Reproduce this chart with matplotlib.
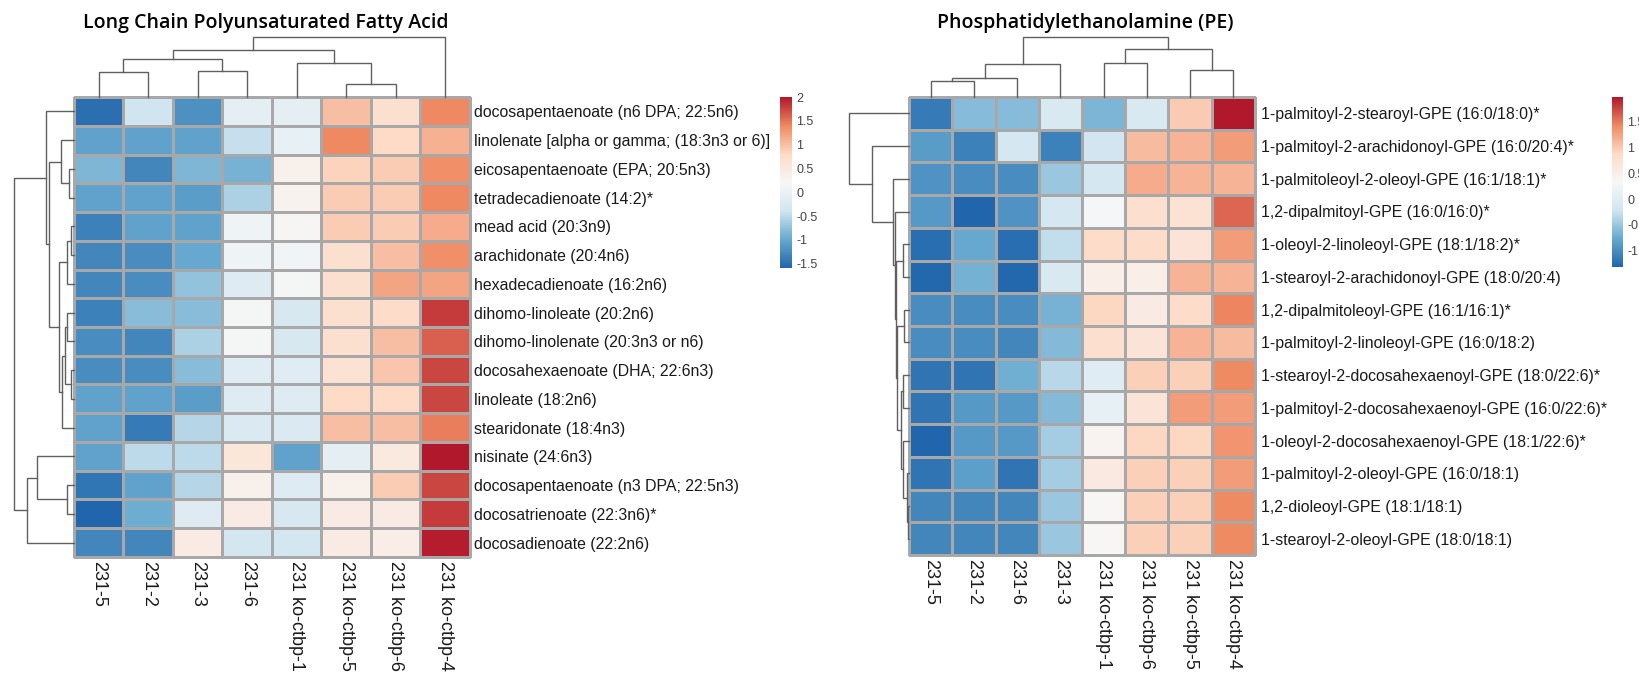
import numpy as np
import matplotlib
matplotlib.use("Agg")
import matplotlib.pyplot as plt
from matplotlib.colors import LinearSegmentedColormap, Normalize
from matplotlib.cm import ScalarMappable

# ---------------- data ----------------
lcpufa_cols = ["231-5", "231-2", "231-3", "231-6", "231 ko-ctbp-1",
               "231 ko-ctbp-5", "231 ko-ctbp-6", "231 ko-ctbp-4"]
lcpufa_rows = [
    "docosapentaenoate (n6 DPA; 22:5n6)",
    "linolenate [alpha or gamma; (18:3n3 or 6)]",
    "eicosapentaenoate (EPA; 20:5n3)",
    "tetradecadienoate (14:2)*",
    "mead acid (20:3n9)",
    "arachidonate (20:4n6)",
    "hexadecadienoate (16:2n6)",
    "dihomo-linoleate (20:2n6)",
    "dihomo-linolenate (20:3n3 or n6)",
    "docosahexaenoate (DHA; 22:6n3)",
    "linoleate (18:2n6)",
    "stearidonate (18:4n3)",
    "nisinate (24:6n3)",
    "docosapentaenoate (n3 DPA; 22:5n3)",
    "docosatrienoate (22:3n6)*",
    "docosadienoate (22:2n6)",
]
lcpufa_values = [
    [-1.50, -0.40, -1.20, -0.10, -0.10, 1.00, 0.70, 1.40],
    [-1.05, -1.05, -1.05, -0.45, -0.05, 1.40, 0.80, 1.10],
    [-0.85, -1.30, -0.85, -0.90, 0.35, 0.85, 0.90, 1.35],
    [-1.05, -1.05, -1.10, -0.60, 0.30, 0.90, 0.90, 1.40],
    [-1.35, -1.05, -1.05, 0.05, 0.25, 0.90, 0.90, 1.15],
    [-1.30, -1.25, -1.00, 0.05, 0.10, 0.70, 1.00, 1.35],
    [-1.30, -1.25, -0.75, -0.20, 0.15, 0.70, 1.20, 1.20],
    [-1.35, -0.80, -0.80, 0.15, -0.30, 0.70, 0.75, 1.80],
    [-1.25, -1.30, -0.60, 0.15, -0.30, 0.70, 1.00, 1.60],
    [-1.25, -1.25, -0.80, -0.15, -0.15, 0.65, 0.95, 1.75],
    [-1.05, -1.05, -1.10, -0.20, -0.20, 0.80, 0.80, 1.75],
    [-1.05, -1.40, -0.55, -0.25, -0.25, 1.00, 1.00, 1.45],
    [-1.05, -0.50, -0.50, 0.55, -1.05, -0.10, 0.50, 2.00],
    [-1.45, -1.05, -0.55, 0.35, -0.20, 0.35, 0.90, 1.75],
    [-1.60, -0.95, -0.20, 0.45, -0.30, 0.45, 0.45, 1.80],
    [-1.30, -1.30, 0.45, -0.35, -0.35, 0.45, 0.40, 1.95],
]
lcpufa_range = (-1.59, 1.99)
lcpufa_ticks = [-1.5, -1, -0.5, 0, 0.5, 1, 1.5, 2]
# dendrograms: (child_a, child_b, height) ; leaves in display order
lcpufa_col_tree = [(0, 1, 25.3), (2, 3, 26.3), (8, 9, 37.7), (5, 6, 12.7),
                   (4, 11, 33.7), (10, 12, 47.0), (13, 7, 60.3)]
lcpufa_row_tree = [(2, 3, 4.7), (1, 16, 13.3), (4, 5, 3.3), (18, 6, 7.3),
                   (7, 8, 6.7), (9, 10, 3.3), (20, 21, 8.5), (22, 11, 12.3),
                   (19, 23, 14.7), (17, 24, 25.0), (0, 25, 28.3), (13, 14, 6.7),
                   (12, 27, 36.7), (28, 15, 47.3), (26, 29, 60.0)]

pe_cols = ["231-5", "231-2", "231-6", "231-3", "231 ko-ctbp-1",
           "231 ko-ctbp-6", "231 ko-ctbp-5", "231 ko-ctbp-4"]
pe_rows = [
    "1-palmitoyl-2-stearoyl-GPE (16:0/18:0)*",
    "1-palmitoyl-2-arachidonoyl-GPE (16:0/20:4)*",
    "1-palmitoleoyl-2-oleoyl-GPE (16:1/18:1)*",
    "1,2-dipalmitoyl-GPE (16:0/16:0)*",
    "1-oleoyl-2-linoleoyl-GPE (18:1/18:2)*",
    "1-stearoyl-2-arachidonoyl-GPE (18:0/20:4)",
    "1,2-dipalmitoleoyl-GPE (16:1/16:1)*",
    "1-palmitoyl-2-linoleoyl-GPE (16:0/18:2)",
    "1-stearoyl-2-docosahexaenoyl-GPE (18:0/22:6)*",
    "1-palmitoyl-2-docosahexaenoyl-GPE (16:0/22:6)*",
    "1-oleoyl-2-docosahexaenoyl-GPE (18:1/22:6)*",
    "1-palmitoyl-2-oleoyl-GPE (16:0/18:1)",
    "1,2-dioleoyl-GPE (18:1/18:1)",
    "1-stearoyl-2-oleoyl-GPE (18:0/18:1)",
]
pe_values = [
    [-1.15, -0.60, -0.60, -0.10, -0.65, -0.10, 1.00, 1.98],
    [-0.87, -1.10, -0.15, -1.10, -0.20, 1.10, 1.15, 1.30],
    [-0.95, -1.00, -1.00, -0.50, -0.15, 1.20, 1.15, 1.15],
    [-0.90, -1.32, -0.95, -0.15, 0.30, 0.80, 0.75, 1.60],
    [-1.25, -0.77, -1.25, -0.30, 0.85, 0.85, 0.70, 1.30],
    [-1.30, -0.70, -1.30, -0.10, 0.50, 0.50, 1.15, 1.15],
    [-1.00, -1.00, -1.00, -0.68, 0.90, 0.55, 0.85, 1.45],
    [-1.00, -1.00, -1.05, -0.62, 0.80, 0.70, 1.15, 1.10],
    [-1.20, -1.20, -0.72, -0.35, 0.00, 0.95, 0.95, 1.42],
    [-1.20, -0.90, -0.90, -0.62, 0.10, 0.70, 1.30, 1.30],
    [-1.32, -0.90, -0.90, -0.45, 0.40, 0.90, 0.90, 1.35],
    [-1.20, -0.85, -1.20, -0.45, 0.60, 0.95, 0.95, 1.30],
    [-1.05, -1.05, -1.05, -0.50, 0.35, 0.95, 0.95, 1.42],
    [-1.05, -1.05, -1.05, -0.50, 0.35, 0.95, 0.95, 1.42],
]
pe_range = (-1.32, 1.98)
pe_ticks = [-1, -0.5, 0, 0.5, 1, 1.5]
pe_col_tree = [(0, 1, 16.0), (8, 2, 19.3), (9, 3, 32.7), (4, 5, 34.3),
               (6, 7, 27.0), (11, 12, 47.3), (10, 13, 59.7)]
pe_row_tree = [(4, 5, 5.7), (6, 7, 4.7), (8, 9, 6.3), (12, 13, 1.5),
               (11, 17, 2.5), (10, 18, 6.0), (16, 19, 8.0), (15, 20, 12.0),
               (14, 21, 13.0), (3, 22, 14.0), (2, 23, 15.7), (1, 24, 36.7),
               (0, 25, 60.0)]

palette = ["#2166AC", "#67A9CF", "#D1E5F0", "#F7F7F7", "#FDDBC7", "#EF8A62", "#B2182B"]
cmap = LinearSegmentedColormap.from_list("rdbu7", palette, N=256)

# ---------------- layout helpers ----------------
W, H = 1640, 674
fig = plt.figure(figsize=(W / 100, H / 100), dpi=100)
plt.rcParams['font.family'] = ['Liberation Sans', 'DejaVu Sans']


def px_axes(x0, y0, x1, y1):
    return fig.add_axes([x0 / W, 1 - y1 / H, (x1 - x0) / W, (y1 - y0) / H])


def tree_segments(tree, n):
    pos = {i: i + 0.5 for i in range(n)}
    hgt = {i: 0.0 for i in range(n)}
    segs = []
    for k, (a, b, h) in enumerate(tree):
        segs.append([(pos[a], hgt[a]), (pos[a], h), (pos[b], h), (pos[b], hgt[b])])
        pos[n + k] = (pos[a] + pos[b]) / 2
        hgt[n + k] = h
    return segs


DCOL = "#606060"
DLW = 1.0


def draw_col_dendro(ax, tree, n):
    for s in tree_segments(tree, n):
        xs, ys = zip(*s)
        ax.plot(xs, ys, color=DCOL, lw=DLW, solid_joinstyle="miter", clip_on=False)
    ax.set_xlim(0, n)
    ax.set_ylim(0, max(t[2] for t in tree))
    ax.axis("off")


def draw_row_dendro(ax, tree, n):
    for s in tree_segments(tree, n):
        ys, xs = zip(*s)
        ax.plot(xs, ys, color=DCOL, lw=DLW, solid_joinstyle="miter", clip_on=False)
    ax.set_ylim(n, 0)
    ax.set_xlim(max(t[2] for t in tree), 0)
    ax.axis("off")


def draw_heat(ax, vals, rows, cols, vrange, row_pad):
    data = np.array(vals)
    norm = Normalize(*vrange)
    m = ax.pcolormesh(np.arange(len(cols) + 1), np.arange(len(rows) + 1), data,
                      cmap=cmap, norm=norm, edgecolors="#a8a8a8", linewidth=0.75)
    m.set_clip_on(False)
    ax.set_xlim(0, len(cols))
    ax.set_ylim(len(rows), 0)
    for sp in ax.spines.values():
        sp.set_visible(False)
    ax.yaxis.tick_right()
    ax.set_yticks(np.arange(len(rows)) + 0.5)
    ax.set_yticklabels(rows, fontsize=11.4, color="#1a1a1a")
    ax.set_xticks(np.arange(len(cols)) + 0.5)
    ax.set_xticklabels(cols, rotation=-90, fontsize=13, color="#1a1a1a", va="top", ha="center")
    ax.tick_params(axis="y", length=0, pad=row_pad)
    ax.tick_params(axis="x", length=0, pad=3)
    return norm


def draw_cbar(cax, norm, ticks):
    sm = ScalarMappable(norm=norm, cmap=cmap)
    cb = fig.colorbar(sm, cax=cax)
    cb.outline.set_visible(False)
    cb.set_ticks(ticks)
    cb.set_ticklabels([("%g" % t) for t in ticks])
    cax.tick_params(length=0, labelsize=9, pad=3, colors="#444444")


title_font = dict(family=["Open Sans", "DejaVu Sans"], fontsize=14, fontweight="semibold")

# ---------------- left panel ----------------
ax1 = px_axes(74, 97, 470, 557)
n1 = draw_heat(ax1, lcpufa_values, lcpufa_rows, lcpufa_cols, lcpufa_range, 3)
draw_col_dendro(px_axes(74, 37, 470, 97), lcpufa_col_tree, len(lcpufa_cols))
draw_row_dendro(px_axes(14, 97, 74, 557), lcpufa_row_tree, len(lcpufa_rows))
draw_cbar(px_axes(780, 97, 792, 268), n1, lcpufa_ticks)
fig.text(266 / W, 1 - 23 / H, "Long Chain Polyunsaturated Fatty Acid", ha="center", va="center", **title_font)

# ---------------- right panel ----------------
ax2 = px_axes(909, 97, 1255, 555)
n2 = draw_heat(ax2, pe_values, pe_rows, pe_cols, pe_range, 4)
draw_col_dendro(px_axes(909, 37, 1255, 97), pe_col_tree, len(pe_cols))
draw_row_dendro(px_axes(849, 97, 909, 555), pe_row_tree, len(pe_rows))
draw_cbar(px_axes(1612, 97, 1623, 267), n2, pe_ticks)
fig.text(1085 / W, 1 - 23 / H, "Phosphatidylethanolamine (PE)", ha="center", va="center", **title_font)

fig.savefig("out.png", dpi=100)
